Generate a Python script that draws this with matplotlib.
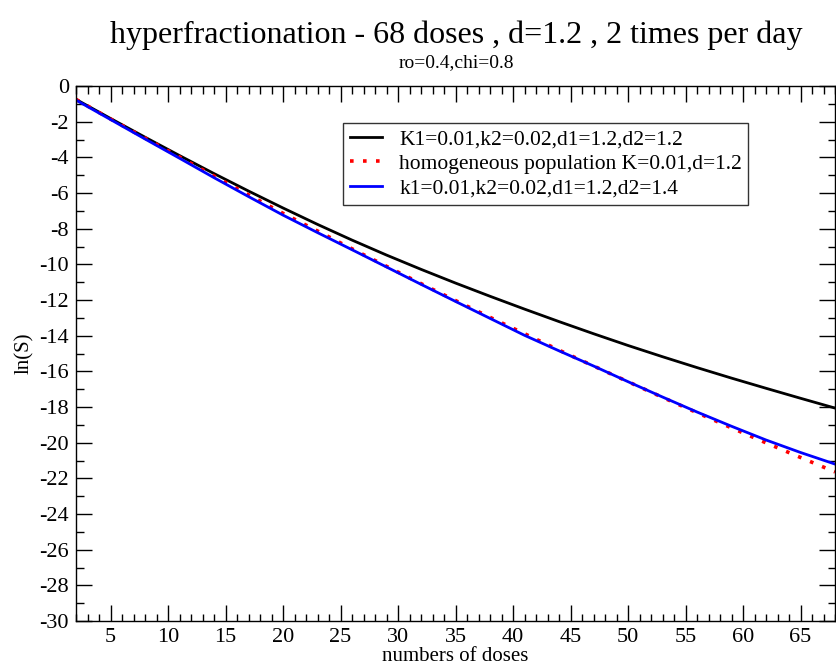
import matplotlib
matplotlib.use("Agg")
import matplotlib.pyplot as plt
from matplotlib.ticker import MultipleLocator

# numbers of doses
doses = [2, 5, 8, 11, 14, 17, 20, 23, 26, 29, 32, 35, 38, 41, 44, 47,
         50, 53, 56, 59, 62, 65, 68]

# ln(S)
ln_s_k1k2_d12 = [-0.75, -1.82, -2.87, -3.90, -4.91, -5.89, -6.84, -7.76,
                 -8.64, -9.48, -10.28, -11.05, -11.79, -12.51, -13.21,
                 -13.89, -14.55, -15.18, -15.79, -16.38, -16.95, -17.51,
                 -18.06]
ln_s_homog = [-0.75, -1.85, -2.92, -3.98, -5.05, -6.10, -7.14, -8.13,
              -9.13, -10.11, -11.08, -12.03, -12.97, -13.89, -14.81,
              -15.70, -16.58, -17.46, -18.32, -19.17, -20.01, -20.83,
              -21.64]
ln_s_k1k2_d14 = [-0.79, -1.88, -2.97, -4.05, -5.14, -6.20, -7.24, -8.22,
                 -9.18, -10.15, -11.12, -12.08, -13.03, -13.98, -14.85,
                 -15.70, -16.58, -17.44, -18.28, -19.08, -19.85, -20.55,
                 -21.20]

labels = ["K1=0.01,k2=0.02,d1=1.2,d2=1.2",
          "homogeneous population K=0.01,d=1.2",
          "k1=0.01,k2=0.02,d1=1.2,d2=1.4"]

plt.rcParams['font.family'] = ['Liberation Serif', 'DejaVu Serif']
plt.rcParams['axes.unicode_minus'] = False

fig = plt.figure(figsize=(8.36, 6.7), dpi=100)
ax = fig.add_axes([76/836, 1 - 621/670, 759/836, 535/670])

ax.plot(doses, ln_s_k1k2_d12, color='black', lw=2.0, label=labels[0])
ax.plot(doses, ln_s_homog, color='red', lw=2.6, linestyle=(0, (1, 2.6)),
        label=labels[1])
ax.plot(doses, ln_s_k1k2_d14, color='blue', lw=2.0, label=labels[2])

ax.set_xlim(2, 68)
ax.set_ylim(-30, 0)
ax.xaxis.set_major_locator(MultipleLocator(5))
ax.xaxis.set_minor_locator(MultipleLocator(1))
ax.yaxis.set_major_locator(MultipleLocator(2))
ax.yaxis.set_minor_locator(MultipleLocator(1))
ax.tick_params(which='both', direction='in', top=True, right=True,
               width=1.0, labelsize=16)
ax.tick_params(which='major', length=11.3, pad=5)
ax.tick_params(which='minor', length=5.4)
for sp in ax.spines.values():
    sp.set_linewidth(1.0)

ax.set_xlabel("numbers of doses", fontsize=15, labelpad=0)
ax.set_ylabel("ln(S)", fontsize=15, labelpad=4)

fig.text(0.546, 0.947, "hyperfractionation - 68 doses , d=1.2 , 2 times per day",
         ha='center', va='center', fontsize=23)
fig.text(0.546, 0.906, "ro=0.4,chi=0.8", ha='center', va='center', fontsize=14)

leg = ax.legend(loc='upper left', bbox_to_anchor=(0.352, 0.931), fontsize=15.5,
                frameon=True, fancybox=False, handlelength=1.5,
                borderpad=0.3, labelspacing=0.2, handletextpad=0.8,
                borderaxespad=0)
leg.get_frame().set_edgecolor('black')
leg.get_frame().set_linewidth(1.0)

fig.savefig("out.png", dpi=100)
